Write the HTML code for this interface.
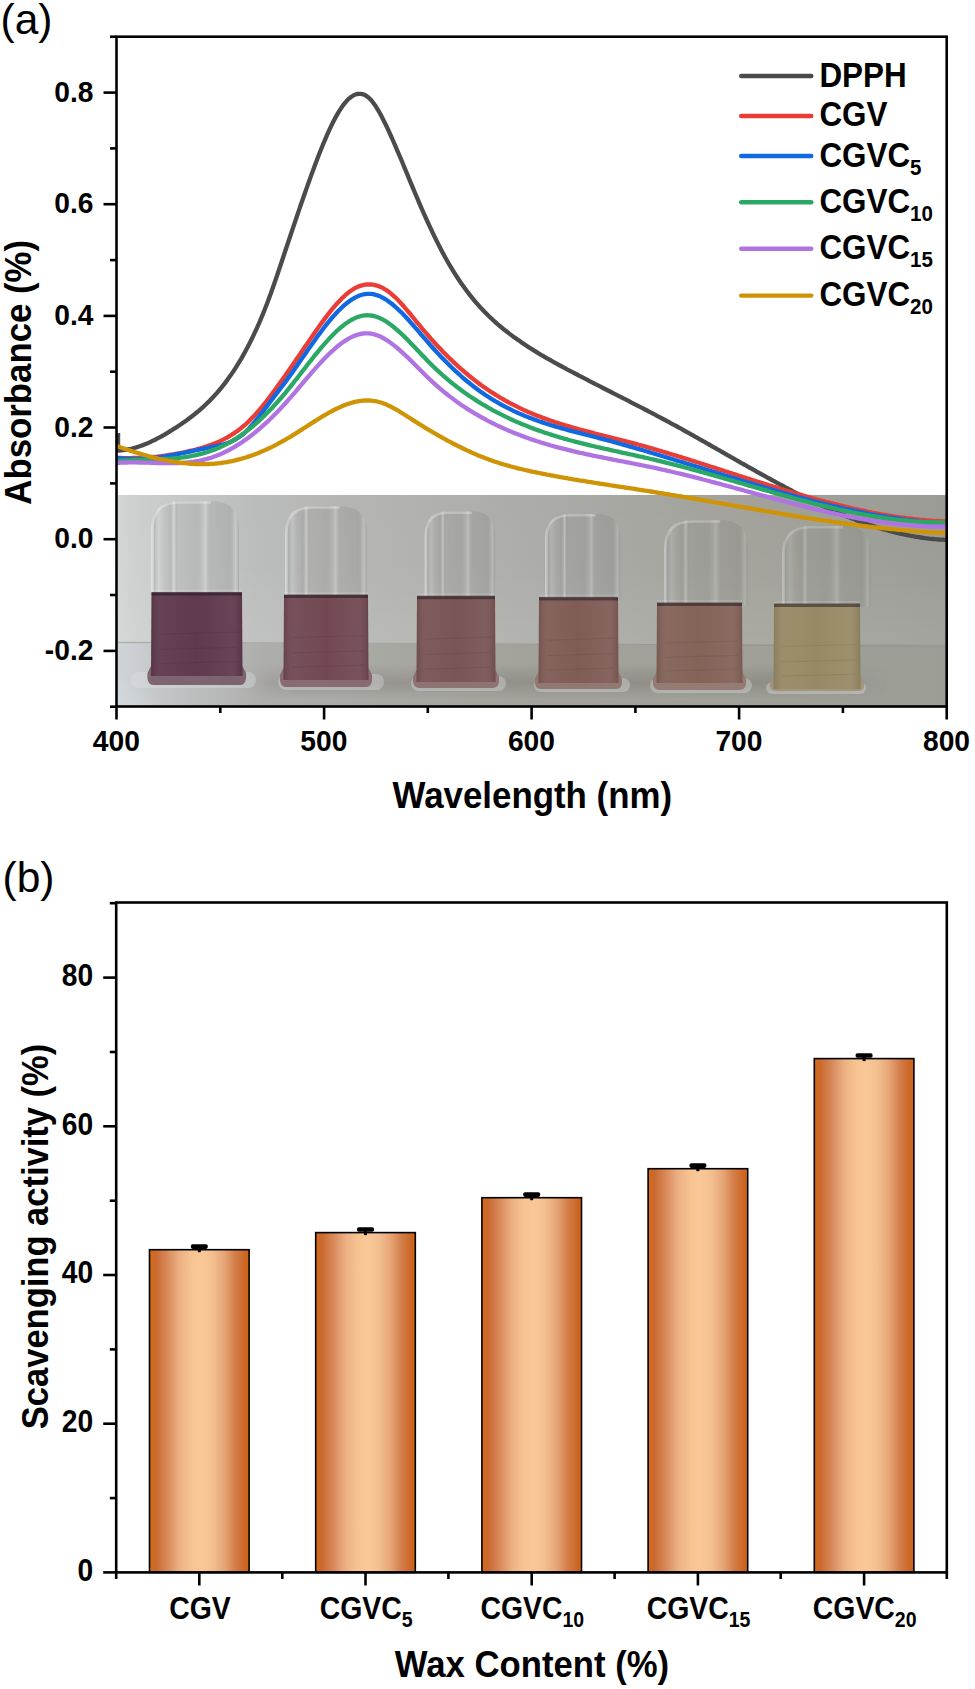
<!DOCTYPE html>
<html><head><meta charset="utf-8"><title>Figure</title>
<style>html,body{margin:0;padding:0;background:#fff;width:975px;height:1689px;overflow:hidden;font-family:"Liberation Sans",sans-serif;}svg{display:block}</style>
</head><body>
<svg width="975" height="1689" viewBox="0 0 975 1689">
<rect width="975" height="1689" fill="#ffffff"/>
<defs>
<clipPath id="phclip"><rect x="117.5" y="494.8" width="828.5" height="211.2"/></clipPath>
<linearGradient id="wall" x1="0" y1="0" x2="1" y2="0"><stop offset="0" stop-color="#d4d6d5"/><stop offset="0.02" stop-color="#ccd0cf"/><stop offset="0.17" stop-color="#babcbb"/><stop offset="0.34" stop-color="#b2b2af"/><stop offset="0.58" stop-color="#a8a8a4"/><stop offset="0.77" stop-color="#a2a29a"/><stop offset="0.95" stop-color="#9c9d97"/><stop offset="1" stop-color="#9a9b95"/></linearGradient>
<linearGradient id="table" x1="0" y1="0" x2="1" y2="0"><stop offset="0" stop-color="#d0d5da"/><stop offset="0.05" stop-color="#c4c7c8"/><stop offset="0.18" stop-color="#adadab"/><stop offset="0.48" stop-color="#a3a39b"/><stop offset="1" stop-color="#9c9d95"/></linearGradient>
<radialGradient id="tableglow" cx="0" cy="1" r="1"><stop offset="0" stop-color="#dfe5ee" stop-opacity="0.9"/><stop offset="1" stop-color="#dfe5ee" stop-opacity="0"/></radialGradient>
<linearGradient id="capg" x1="0" y1="0" x2="1" y2="0"><stop offset="0" stop-color="#ffffff" stop-opacity="0.30"/><stop offset="0.04" stop-color="#5a6570" stop-opacity="0.18"/><stop offset="0.09" stop-color="#ffffff" stop-opacity="0.10"/><stop offset="0.2" stop-color="#000000" stop-opacity="0.06"/><stop offset="0.26" stop-color="#ffffff" stop-opacity="0.28"/><stop offset="0.31" stop-color="#000000" stop-opacity="0.05"/><stop offset="0.5" stop-color="#000000" stop-opacity="0.07"/><stop offset="0.62" stop-color="#ffffff" stop-opacity="0.18"/><stop offset="0.68" stop-color="#000000" stop-opacity="0.06"/><stop offset="0.9" stop-color="#000000" stop-opacity="0.08"/><stop offset="0.96" stop-color="#ffffff" stop-opacity="0.15"/><stop offset="1" stop-color="#50565c" stop-opacity="0.2"/></linearGradient>
<linearGradient id="liqg" x1="0" y1="0" x2="1" y2="0"><stop offset="0" stop-color="#000" stop-opacity="0.10"/><stop offset="0.12" stop-color="#fff" stop-opacity="0.04"/><stop offset="0.5" stop-color="#fff" stop-opacity="0.0"/><stop offset="0.88" stop-color="#fff" stop-opacity="0.05"/><stop offset="1" stop-color="#000" stop-opacity="0.10"/></linearGradient>
</defs>
<g clip-path="url(#phclip)">
<rect x="117.5" y="494.8" width="828.5" height="149.2" fill="url(#wall)"/>
<rect x="117.5" y="644" width="828.5" height="62.0" fill="url(#table)"/>
<ellipse cx="118" cy="706" rx="70" ry="45" fill="url(#tableglow)"/>
<linearGradient id="wallv" x1="0" y1="0" x2="0" y2="1"><stop offset="0" stop-color="#fff" stop-opacity="0"/><stop offset="0.5" stop-color="#fff" stop-opacity="0.02"/><stop offset="1" stop-color="#fff" stop-opacity="0.09"/></linearGradient>
<rect x="117.5" y="494.8" width="828.5" height="149.2" fill="url(#wallv)"/>
<linearGradient id="shadowv" x1="0" y1="0" x2="0" y2="1"><stop offset="0" stop-color="#3a3028" stop-opacity="0"/><stop offset="0.55" stop-color="#3a3028" stop-opacity="0.16"/><stop offset="1" stop-color="#3a3028" stop-opacity="0.0"/></linearGradient>
<linearGradient id="shadowh" x1="0" y1="0" x2="1" y2="0"><stop offset="0" stop-color="#fff" stop-opacity="0"/><stop offset="0.08" stop-color="#fff" stop-opacity="1"/><stop offset="0.85" stop-color="#fff" stop-opacity="1"/><stop offset="1" stop-color="#fff" stop-opacity="0"/></linearGradient>
<mask id="shmask"><rect x="240" y="664" width="650" height="34" fill="url(#shadowh)"/></mask>
<rect x="240" y="664" width="650" height="34" fill="url(#shadowv)" mask="url(#shmask)"/>
<path d="M117.5,642.5 L640,644.5" stroke="#9d9e98" stroke-width="1.4" fill="none" opacity="0.7"/>
<path d="M640,644.5 L946,646.5" stroke="#8e8f88" stroke-width="1.2" fill="none" opacity="0.5"/>
<rect x="131.0" y="672.0" width="125.0" height="16.0" rx="8.0" fill="#dfe2e6" opacity="0.35"/>
<path d="M151.0,666.0 L242.5,666.0 L246.0,673.0 Q247.0,685.0 240.0,685.0 L153.5,685.0 Q146.5,685.0 147.5,673.0 Z" fill="#765866" opacity="0.9"/>
<g opacity="1.00">
<path d="M151.0,595.5 L151.0,529.0 Q151.0,501.0 179.0,501.0 L211.0,501.0 Q239.0,501.0 239.0,529.0 L239.0,595.5 Z" fill="url(#capg)"/>
<path d="M152.5,592.5 L152.5,529.0 Q152.5,502.5 179.0,502.5 L211.0,502.5" fill="none" stroke="#ffffff" stroke-opacity="0.32" stroke-width="2.6"/>
</g>
<path d="M151.5,592.5 L242.0,592.5 L242.5,676.0 L151.0,676.0 Z" fill="#603a4e"/>
<path d="M151.5,592.5 L242.0,592.5 L242.5,676.0 L151.0,676.0 Z" fill="url(#liqg)"/>
<rect x="151.5" y="592.0" width="90.5" height="3.5" fill="#1e141c" opacity="0.5"/>
<rect x="151.5" y="589.5" width="90.5" height="2" fill="#ffffff" opacity="0.12"/>
<line x1="159.5" y1="634.2" x2="238.0" y2="632.2" stroke="#000" stroke-opacity="0.07" stroke-width="1.2"/>
<line x1="159.5" y1="649.3" x2="238.0" y2="647.3" stroke="#000" stroke-opacity="0.07" stroke-width="1.2"/>
<line x1="159.5" y1="663.5" x2="238.0" y2="661.5" stroke="#000" stroke-opacity="0.07" stroke-width="1.2"/>
<rect x="278.0" y="674.0" width="106.0" height="16.0" rx="8.0" fill="#dfe2e6" opacity="0.35"/>
<path d="M283.5,668.0 L368.5,668.0 L372.0,675.0 Q373.0,687.0 366.0,687.0 L286.0,687.0 Q279.0,687.0 280.0,675.0 Z" fill="#84646a" opacity="0.9"/>
<g opacity="0.95">
<path d="M285.0,598.0 L285.0,533.1 Q285.0,506.0 312.1,506.0 L339.9,506.0 Q367.0,506.0 367.0,533.1 L367.0,598.0 Z" fill="url(#capg)"/>
<path d="M286.5,595.0 L286.5,533.1 Q286.5,507.5 312.1,507.5 L339.9,507.5" fill="none" stroke="#ffffff" stroke-opacity="0.32" stroke-width="2.6"/>
</g>
<path d="M284.0,595.0 L368.0,595.0 L368.5,680.0 L283.5,680.0 Z" fill="#724953"/>
<path d="M284.0,595.0 L368.0,595.0 L368.5,680.0 L283.5,680.0 Z" fill="url(#liqg)"/>
<rect x="284.0" y="594.5" width="84.0" height="3.5" fill="#1e141c" opacity="0.5"/>
<rect x="284.0" y="592.0" width="84.0" height="2" fill="#ffffff" opacity="0.12"/>
<line x1="292.0" y1="637.5" x2="364.0" y2="635.5" stroke="#000" stroke-opacity="0.07" stroke-width="1.2"/>
<line x1="292.0" y1="652.8" x2="364.0" y2="650.8" stroke="#000" stroke-opacity="0.07" stroke-width="1.2"/>
<line x1="292.0" y1="667.2" x2="364.0" y2="665.2" stroke="#000" stroke-opacity="0.07" stroke-width="1.2"/>
<rect x="411.0" y="676.0" width="95.0" height="15.0" rx="7.5" fill="#dfe2e6" opacity="0.35"/>
<path d="M416.5,670.0 L495.5,670.0 L499.0,677.0 Q500.0,688.0 493.0,688.0 L419.0,688.0 Q412.0,688.0 413.0,677.0 Z" fill="#8a6d6c" opacity="0.9"/>
<g opacity="0.90">
<path d="M424.6,599.2 L424.6,534.4 Q424.6,511.2 447.8,511.2 L471.8,511.2 Q495.0,511.2 495.0,534.4 L495.0,599.2 Z" fill="url(#capg)"/>
<path d="M426.1,596.2 L426.1,534.4 Q426.1,512.7 447.8,512.7 L471.8,512.7" fill="none" stroke="#ffffff" stroke-opacity="0.32" stroke-width="2.6"/>
</g>
<path d="M417.0,596.2 L495.0,596.2 L495.5,682.0 L416.5,682.0 Z" fill="#7a5555"/>
<path d="M417.0,596.2 L495.0,596.2 L495.5,682.0 L416.5,682.0 Z" fill="url(#liqg)"/>
<rect x="417.0" y="595.7" width="78.0" height="3.5" fill="#1e141c" opacity="0.5"/>
<rect x="417.0" y="593.2" width="78.0" height="2" fill="#ffffff" opacity="0.12"/>
<line x1="425.0" y1="639.1" x2="491.0" y2="637.1" stroke="#000" stroke-opacity="0.07" stroke-width="1.2"/>
<line x1="425.0" y1="654.5" x2="491.0" y2="652.5" stroke="#000" stroke-opacity="0.07" stroke-width="1.2"/>
<line x1="425.0" y1="669.1" x2="491.0" y2="667.1" stroke="#000" stroke-opacity="0.07" stroke-width="1.2"/>
<rect x="534.0" y="678.0" width="96.0" height="14.0" rx="7.0" fill="#dfe2e6" opacity="0.35"/>
<path d="M538.5,672.0 L618.5,672.0 L622.0,679.0 Q623.0,689.0 616.0,689.0 L541.0,689.0 Q534.0,689.0 535.0,679.0 Z" fill="#8f726d" opacity="0.9"/>
<g opacity="0.85">
<path d="M545.0,600.4 L545.0,538.5 Q545.0,513.7 569.8,513.7 L595.5,513.7 Q620.3,513.7 620.3,538.5 L620.3,600.4 Z" fill="url(#capg)"/>
<path d="M546.5,597.4 L546.5,538.5 Q546.5,515.2 569.8,515.2 L595.5,515.2" fill="none" stroke="#ffffff" stroke-opacity="0.32" stroke-width="2.6"/>
</g>
<path d="M539.0,597.4 L618.0,597.4 L618.5,683.0 L538.5,683.0 Z" fill="#815c57"/>
<path d="M539.0,597.4 L618.0,597.4 L618.5,683.0 L538.5,683.0 Z" fill="url(#liqg)"/>
<rect x="539.0" y="596.9" width="79.0" height="3.5" fill="#1e141c" opacity="0.5"/>
<rect x="539.0" y="594.4" width="79.0" height="2" fill="#ffffff" opacity="0.12"/>
<line x1="547.0" y1="640.2" x2="614.0" y2="638.2" stroke="#000" stroke-opacity="0.07" stroke-width="1.2"/>
<line x1="547.0" y1="655.6" x2="614.0" y2="653.6" stroke="#000" stroke-opacity="0.07" stroke-width="1.2"/>
<line x1="547.0" y1="670.2" x2="614.0" y2="668.2" stroke="#000" stroke-opacity="0.07" stroke-width="1.2"/>
<rect x="650.0" y="678.0" width="102.0" height="15.0" rx="7.5" fill="#dfe2e6" opacity="0.35"/>
<path d="M656.5,672.0 L742.5,672.0 L746.0,679.0 Q747.0,690.0 740.0,690.0 L659.0,690.0 Q652.0,690.0 653.0,679.0 Z" fill="#91776e" opacity="0.9"/>
<g opacity="0.75">
<path d="M664.0,606.0 L664.0,547.7 Q664.0,520.0 691.7,520.0 L720.3,520.0 Q748.0,520.0 748.0,547.7 L748.0,606.0 Z" fill="url(#capg)"/>
<path d="M665.5,603.0 L665.5,547.7 Q665.5,521.5 691.7,521.5 L720.3,521.5" fill="none" stroke="#ffffff" stroke-opacity="0.32" stroke-width="2.6"/>
</g>
<path d="M657.0,603.0 L742.0,603.0 L742.5,683.0 L656.5,683.0 Z" fill="#846358"/>
<path d="M657.0,603.0 L742.0,603.0 L742.5,683.0 L656.5,683.0 Z" fill="url(#liqg)"/>
<rect x="657.0" y="602.5" width="85.0" height="3.5" fill="#1e141c" opacity="0.5"/>
<rect x="657.0" y="600.0" width="85.0" height="2" fill="#ffffff" opacity="0.12"/>
<line x1="665.0" y1="643.0" x2="738.0" y2="641.0" stroke="#000" stroke-opacity="0.07" stroke-width="1.2"/>
<line x1="665.0" y1="657.4" x2="738.0" y2="655.4" stroke="#000" stroke-opacity="0.07" stroke-width="1.2"/>
<line x1="665.0" y1="671.0" x2="738.0" y2="669.0" stroke="#000" stroke-opacity="0.07" stroke-width="1.2"/>
<rect x="766.0" y="682.0" width="100.0" height="12.0" rx="6.0" fill="#dfe2e6" opacity="0.35"/>
<path d="M773.5,676.0 L860.5,676.0 L864.0,683.0 Q865.0,691.0 858.0,691.0 L776.0,691.0 Q769.0,691.0 770.0,683.0 Z" fill="#a09478" opacity="0.9"/>
<g opacity="0.65">
<path d="M782.0,607.0 L782.0,553.7 Q782.0,525.7 810.0,525.7 L843.0,525.7 Q871.0,525.7 871.0,553.7 L871.0,607.0 Z" fill="url(#capg)"/>
<path d="M783.5,604.0 L783.5,553.7 Q783.5,527.2 810.0,527.2 L843.0,527.2" fill="none" stroke="#ffffff" stroke-opacity="0.32" stroke-width="2.6"/>
</g>
<path d="M774.0,604.0 L860.0,604.0 L860.5,689.0 L773.5,689.0 Z" fill="#988a66"/>
<path d="M774.0,604.0 L860.0,604.0 L860.5,689.0 L773.5,689.0 Z" fill="url(#liqg)"/>
<rect x="774.0" y="603.5" width="86.0" height="3.5" fill="#1e141c" opacity="0.5"/>
<rect x="774.0" y="601.0" width="86.0" height="2" fill="#ffffff" opacity="0.12"/>
<line x1="782.0" y1="646.5" x2="856.0" y2="644.5" stroke="#000" stroke-opacity="0.07" stroke-width="1.2"/>
<line x1="782.0" y1="661.8" x2="856.0" y2="659.8" stroke="#000" stroke-opacity="0.07" stroke-width="1.2"/>
<line x1="782.0" y1="676.2" x2="856.0" y2="674.2" stroke="#000" stroke-opacity="0.07" stroke-width="1.2"/>
</g>
<path d="M117.0,450.6 L119.0,450.5 L121.0,450.4 L123.0,450.2 L125.0,449.9 L127.0,449.6 L129.0,449.2 L131.0,448.8 L133.0,448.3 L135.0,447.7 L137.0,447.1 L139.0,446.5 L141.0,445.8 L143.0,445.1 L145.0,444.3 L147.0,443.5 L149.0,442.6 L151.0,441.7 L153.0,440.7 L155.0,439.8 L157.0,438.7 L159.0,437.7 L161.0,436.6 L163.0,435.5 L165.0,434.3 L167.0,433.2 L169.0,431.9 L171.0,430.7 L173.0,429.4 L175.0,428.2 L177.0,426.9 L179.0,425.5 L181.0,424.2 L183.0,422.8 L185.0,421.4 L187.0,420.0 L189.0,418.5 L191.0,417.0 L193.0,415.5 L195.0,413.9 L197.0,412.3 L199.0,410.6 L201.0,408.8 L203.0,407.1 L205.0,405.2 L207.0,403.3 L209.0,401.4 L211.0,399.3 L213.0,397.2 L215.0,395.1 L217.0,392.8 L219.0,390.5 L221.0,388.1 L223.0,385.6 L225.0,383.1 L227.0,380.4 L229.0,377.6 L231.0,374.8 L233.0,371.9 L235.0,368.8 L237.0,365.7 L239.0,362.4 L241.0,359.1 L243.0,355.6 L245.0,352.0 L247.0,348.3 L249.0,344.5 L251.0,340.5 L253.0,336.4 L255.0,332.2 L257.0,327.8 L259.0,323.3 L261.0,318.6 L263.0,313.8 L265.0,308.8 L267.0,303.7 L269.0,298.3 L271.0,292.9 L273.0,287.2 L275.0,281.5 L277.0,275.7 L279.0,269.8 L281.0,263.8 L283.0,257.8 L285.0,251.8 L287.0,245.8 L289.0,239.8 L291.0,233.8 L293.0,227.9 L295.0,221.9 L297.0,216.0 L299.0,210.1 L301.0,204.3 L303.0,198.5 L305.0,192.8 L307.0,187.1 L309.0,181.5 L311.0,175.9 L313.0,170.4 L315.0,165.1 L317.0,159.8 L319.0,154.6 L321.0,149.5 L323.0,144.5 L325.0,139.8 L327.0,135.1 L329.0,130.7 L331.0,126.4 L333.0,122.3 L335.0,118.4 L337.0,114.8 L339.0,111.4 L341.0,108.3 L343.0,105.4 L345.0,102.9 L347.0,100.6 L349.0,98.6 L351.0,97.0 L353.0,95.7 L355.0,94.7 L357.0,94.0 L359.0,93.8 L361.0,93.8 L363.0,94.3 L365.0,95.1 L367.0,96.4 L369.0,98.0 L371.0,100.0 L373.0,102.5 L375.0,105.2 L377.0,108.3 L379.0,111.7 L381.0,115.3 L383.0,119.2 L385.0,123.2 L387.0,127.3 L389.0,131.6 L391.0,136.0 L393.0,140.5 L395.0,145.1 L397.0,149.8 L399.0,154.5 L401.0,159.2 L403.0,164.0 L405.0,168.9 L407.0,173.7 L409.0,178.6 L411.0,183.4 L413.0,188.2 L415.0,193.0 L417.0,197.7 L419.0,202.4 L421.0,207.1 L423.0,211.6 L425.0,216.1 L427.0,220.5 L429.0,224.9 L431.0,229.2 L433.0,233.4 L435.0,237.5 L437.0,241.6 L439.0,245.5 L441.0,249.4 L443.0,253.2 L445.0,256.9 L447.0,260.5 L449.0,264.0 L451.0,267.4 L453.0,270.7 L455.0,273.9 L457.0,277.0 L459.0,280.0 L461.0,283.0 L463.0,285.8 L465.0,288.6 L467.0,291.3 L469.0,293.9 L471.0,296.5 L473.0,298.9 L475.0,301.3 L477.0,303.6 L479.0,305.9 L481.0,308.1 L483.0,310.2 L485.0,312.3 L487.0,314.3 L489.0,316.3 L491.0,318.2 L493.0,320.0 L495.0,321.8 L497.0,323.6 L499.0,325.3 L501.0,327.0 L503.0,328.7 L505.0,330.3 L507.0,331.8 L509.0,333.4 L511.0,334.9 L513.0,336.4 L515.0,337.8 L517.0,339.2 L519.0,340.6 L521.0,342.0 L523.0,343.4 L525.0,344.7 L527.0,346.1 L529.0,347.4 L531.0,348.6 L533.0,349.9 L535.0,351.1 L537.0,352.4 L539.0,353.6 L541.0,354.8 L543.0,355.9 L545.0,357.1 L547.0,358.3 L549.0,359.4 L551.0,360.5 L553.0,361.7 L555.0,362.8 L557.0,363.9 L559.0,365.0 L561.0,366.0 L563.0,367.1 L565.0,368.2 L567.0,369.3 L569.0,370.3 L571.0,371.4 L573.0,372.4 L575.0,373.5 L577.0,374.5 L579.0,375.6 L581.0,376.6 L583.0,377.7 L585.0,378.7 L587.0,379.7 L589.0,380.8 L591.0,381.8 L593.0,382.8 L595.0,383.9 L597.0,384.9 L599.0,385.9 L601.0,386.9 L603.0,388.0 L605.0,389.0 L607.0,390.0 L609.0,391.0 L611.0,392.0 L613.0,393.1 L615.0,394.1 L617.0,395.1 L619.0,396.1 L621.0,397.1 L623.0,398.2 L625.0,399.2 L627.0,400.2 L629.0,401.2 L631.0,402.3 L633.0,403.3 L635.0,404.3 L637.0,405.3 L639.0,406.4 L641.0,407.4 L643.0,408.4 L645.0,409.5 L647.0,410.5 L649.0,411.6 L651.0,412.6 L653.0,413.7 L655.0,414.7 L657.0,415.8 L659.0,416.8 L661.0,417.9 L663.0,419.0 L665.0,420.0 L667.0,421.1 L669.0,422.2 L671.0,423.3 L673.0,424.4 L675.0,425.4 L677.0,426.5 L679.0,427.6 L681.0,428.7 L683.0,429.9 L685.0,431.0 L687.0,432.1 L689.0,433.2 L691.0,434.3 L693.0,435.4 L695.0,436.6 L697.0,437.7 L699.0,438.8 L701.0,440.0 L703.0,441.1 L705.0,442.2 L707.0,443.4 L709.0,444.5 L711.0,445.6 L713.0,446.8 L715.0,447.9 L717.0,449.1 L719.0,450.2 L721.0,451.4 L723.0,452.5 L725.0,453.6 L727.0,454.8 L729.0,455.9 L731.0,457.1 L733.0,458.2 L735.0,459.3 L737.0,460.5 L739.0,461.6 L741.0,462.8 L743.0,463.9 L745.0,465.0 L747.0,466.2 L749.0,467.3 L751.0,468.4 L753.0,469.5 L755.0,470.7 L757.0,471.8 L759.0,472.9 L761.0,474.0 L763.0,475.1 L765.0,476.2 L767.0,477.3 L769.0,478.4 L771.0,479.5 L773.0,480.6 L775.0,481.7 L777.0,482.8 L779.0,483.9 L781.0,484.9 L783.0,486.0 L785.0,487.1 L787.0,488.1 L789.0,489.2 L791.0,490.2 L793.0,491.3 L795.0,492.3 L797.0,493.3 L799.0,494.3 L801.0,495.4 L803.0,496.4 L805.0,497.4 L807.0,498.4 L809.0,499.3 L811.0,500.3 L813.0,501.3 L815.0,502.3 L817.0,503.2 L819.0,504.2 L821.0,505.1 L823.0,506.0 L825.0,506.9 L827.0,507.9 L829.0,508.8 L831.0,509.7 L833.0,510.5 L835.0,511.4 L837.0,512.3 L839.0,513.1 L841.0,514.0 L843.0,514.8 L845.0,515.6 L847.0,516.5 L849.0,517.3 L851.0,518.1 L853.0,518.8 L855.0,519.6 L857.0,520.4 L859.0,521.1 L861.0,521.8 L863.0,522.6 L865.0,523.3 L867.0,524.0 L869.0,524.7 L871.0,525.3 L873.0,526.0 L875.0,526.6 L877.0,527.3 L879.0,527.9 L881.0,528.5 L883.0,529.1 L885.0,529.7 L887.0,530.2 L889.0,530.8 L891.0,531.3 L893.0,531.9 L895.0,532.4 L897.0,532.9 L899.0,533.3 L901.0,533.8 L903.0,534.2 L905.0,534.7 L907.0,535.1 L909.0,535.5 L911.0,535.9 L913.0,536.2 L915.0,536.6 L917.0,536.9 L919.0,537.2 L921.0,537.5 L923.0,537.8 L925.0,538.1 L927.0,538.3 L929.0,538.6 L931.0,538.8 L933.0,539.0 L935.0,539.2 L937.0,539.3 L939.0,539.5 L941.0,539.6 L943.0,539.7 L945.0,539.8 L946.0,539.8" fill="none" stroke="#4b4b4b" stroke-width="4.3" stroke-linejoin="round" stroke-linecap="butt"/>
<path d="M118.6,451 L118.6,433" stroke="#4b4b4b" stroke-width="3.2" fill="none"/>
<path d="M117.0,457.9 L119.0,458.0 L121.0,458.0 L123.0,458.1 L125.0,458.1 L127.0,458.1 L129.0,458.1 L131.0,458.1 L133.0,458.0 L135.0,458.0 L137.0,457.9 L139.0,457.9 L141.0,457.8 L143.0,457.7 L145.0,457.6 L147.0,457.4 L149.0,457.3 L151.0,457.1 L153.0,456.9 L155.0,456.8 L157.0,456.6 L159.0,456.3 L161.0,456.1 L163.0,455.8 L165.0,455.6 L167.0,455.3 L169.0,455.0 L171.0,454.7 L173.0,454.4 L175.0,454.0 L177.0,453.7 L179.0,453.3 L181.0,452.9 L183.0,452.5 L185.0,452.1 L187.0,451.7 L189.0,451.2 L191.0,450.7 L193.0,450.3 L195.0,449.8 L197.0,449.2 L199.0,448.7 L201.0,448.1 L203.0,447.6 L205.0,446.9 L207.0,446.3 L209.0,445.6 L211.0,444.9 L213.0,444.1 L215.0,443.4 L217.0,442.5 L219.0,441.6 L221.0,440.7 L223.0,439.7 L225.0,438.7 L227.0,437.6 L229.0,436.4 L231.0,435.2 L233.0,433.9 L235.0,432.6 L237.0,431.2 L239.0,429.7 L241.0,428.1 L243.0,426.5 L245.0,424.8 L247.0,423.0 L249.0,421.1 L251.0,419.1 L253.0,417.0 L255.0,414.9 L257.0,412.6 L259.0,410.3 L261.0,408.0 L263.0,405.5 L265.0,403.0 L267.0,400.5 L269.0,397.9 L271.0,395.2 L273.0,392.6 L275.0,389.9 L277.0,387.1 L279.0,384.4 L281.0,381.6 L283.0,378.7 L285.0,375.9 L287.0,373.0 L289.0,370.2 L291.0,367.3 L293.0,364.4 L295.0,361.5 L297.0,358.5 L299.0,355.6 L301.0,352.7 L303.0,349.7 L305.0,346.8 L307.0,343.9 L309.0,341.0 L311.0,338.1 L313.0,335.2 L315.0,332.3 L317.0,329.5 L319.0,326.6 L321.0,323.8 L323.0,321.1 L325.0,318.4 L327.0,315.7 L329.0,313.1 L331.0,310.6 L333.0,308.2 L335.0,305.8 L337.0,303.5 L339.0,301.4 L341.0,299.3 L343.0,297.3 L345.0,295.5 L347.0,293.7 L349.0,292.1 L351.0,290.7 L353.0,289.3 L355.0,288.2 L357.0,287.2 L359.0,286.3 L361.0,285.6 L363.0,285.1 L365.0,284.7 L367.0,284.5 L369.0,284.4 L371.0,284.5 L373.0,284.7 L375.0,285.1 L377.0,285.6 L379.0,286.3 L381.0,287.2 L383.0,288.2 L385.0,289.3 L387.0,290.6 L389.0,292.0 L391.0,293.6 L393.0,295.3 L395.0,297.1 L397.0,299.1 L399.0,301.1 L401.0,303.3 L403.0,305.5 L405.0,307.8 L407.0,310.1 L409.0,312.5 L411.0,314.9 L413.0,317.4 L415.0,319.8 L417.0,322.3 L419.0,324.7 L421.0,327.2 L423.0,329.6 L425.0,331.9 L427.0,334.2 L429.0,336.5 L431.0,338.8 L433.0,341.0 L435.0,343.2 L437.0,345.4 L439.0,347.5 L441.0,349.6 L443.0,351.7 L445.0,353.7 L447.0,355.7 L449.0,357.7 L451.0,359.6 L453.0,361.6 L455.0,363.4 L457.0,365.3 L459.0,367.1 L461.0,368.9 L463.0,370.6 L465.0,372.4 L467.0,374.0 L469.0,375.7 L471.0,377.3 L473.0,378.9 L475.0,380.5 L477.0,382.0 L479.0,383.5 L481.0,385.0 L483.0,386.4 L485.0,387.8 L487.0,389.2 L489.0,390.5 L491.0,391.9 L493.0,393.2 L495.0,394.4 L497.0,395.7 L499.0,396.9 L501.0,398.1 L503.0,399.2 L505.0,400.4 L507.0,401.5 L509.0,402.6 L511.0,403.6 L513.0,404.7 L515.0,405.7 L517.0,406.7 L519.0,407.7 L521.0,408.6 L523.0,409.6 L525.0,410.5 L527.0,411.4 L529.0,412.2 L531.0,413.1 L533.0,413.9 L535.0,414.7 L537.0,415.6 L539.0,416.3 L541.0,417.1 L543.0,417.9 L545.0,418.6 L547.0,419.3 L549.0,420.0 L551.0,420.7 L553.0,421.4 L555.0,422.1 L557.0,422.7 L559.0,423.4 L561.0,424.0 L563.0,424.6 L565.0,425.2 L567.0,425.8 L569.0,426.4 L571.0,427.0 L573.0,427.6 L575.0,428.2 L577.0,428.7 L579.0,429.3 L581.0,429.8 L583.0,430.3 L585.0,430.9 L587.0,431.4 L589.0,431.9 L591.0,432.4 L593.0,432.9 L595.0,433.5 L597.0,434.0 L599.0,434.5 L601.0,435.0 L603.0,435.5 L605.0,436.0 L607.0,436.5 L609.0,437.0 L611.0,437.5 L613.0,438.0 L615.0,438.5 L617.0,439.0 L619.0,439.5 L621.0,440.0 L623.0,440.5 L625.0,441.0 L627.0,441.5 L629.0,442.1 L631.0,442.6 L633.0,443.1 L635.0,443.7 L637.0,444.2 L639.0,444.8 L641.0,445.3 L643.0,445.9 L645.0,446.4 L647.0,447.0 L649.0,447.6 L651.0,448.2 L653.0,448.7 L655.0,449.3 L657.0,449.9 L659.0,450.5 L661.0,451.1 L663.0,451.7 L665.0,452.3 L667.0,452.9 L669.0,453.5 L671.0,454.1 L673.0,454.7 L675.0,455.3 L677.0,455.9 L679.0,456.5 L681.0,457.1 L683.0,457.8 L685.0,458.4 L687.0,459.0 L689.0,459.6 L691.0,460.3 L693.0,460.9 L695.0,461.5 L697.0,462.2 L699.0,462.8 L701.0,463.5 L703.0,464.1 L705.0,464.7 L707.0,465.4 L709.0,466.0 L711.0,466.7 L713.0,467.3 L715.0,467.9 L717.0,468.6 L719.0,469.2 L721.0,469.9 L723.0,470.5 L725.0,471.2 L727.0,471.8 L729.0,472.5 L731.0,473.1 L733.0,473.8 L735.0,474.4 L737.0,475.1 L739.0,475.7 L741.0,476.3 L743.0,477.0 L745.0,477.6 L747.0,478.3 L749.0,478.9 L751.0,479.6 L753.0,480.2 L755.0,480.8 L757.0,481.5 L759.0,482.1 L761.0,482.7 L763.0,483.4 L765.0,484.0 L767.0,484.6 L769.0,485.3 L771.0,485.9 L773.0,486.5 L775.0,487.1 L777.0,487.7 L779.0,488.4 L781.0,489.0 L783.0,489.6 L785.0,490.2 L787.0,490.8 L789.0,491.4 L791.0,492.0 L793.0,492.6 L795.0,493.2 L797.0,493.8 L799.0,494.4 L801.0,494.9 L803.0,495.5 L805.0,496.1 L807.0,496.7 L809.0,497.2 L811.0,497.8 L813.0,498.4 L815.0,498.9 L817.0,499.5 L819.0,500.0 L821.0,500.6 L823.0,501.1 L825.0,501.6 L827.0,502.2 L829.0,502.7 L831.0,503.2 L833.0,503.7 L835.0,504.2 L837.0,504.7 L839.0,505.2 L841.0,505.7 L843.0,506.2 L845.0,506.7 L847.0,507.2 L849.0,507.6 L851.0,508.1 L853.0,508.5 L855.0,509.0 L857.0,509.4 L859.0,509.9 L861.0,510.3 L863.0,510.7 L865.0,511.2 L867.0,511.6 L869.0,512.0 L871.0,512.4 L873.0,512.8 L875.0,513.1 L877.0,513.5 L879.0,513.9 L881.0,514.3 L883.0,514.6 L885.0,515.0 L887.0,515.3 L889.0,515.6 L891.0,516.0 L893.0,516.3 L895.0,516.6 L897.0,516.9 L899.0,517.2 L901.0,517.5 L903.0,517.7 L905.0,518.0 L907.0,518.3 L909.0,518.5 L911.0,518.7 L913.0,519.0 L915.0,519.2 L917.0,519.4 L919.0,519.6 L921.0,519.8 L923.0,520.0 L925.0,520.2 L927.0,520.3 L929.0,520.5 L931.0,520.6 L933.0,520.8 L935.0,520.9 L937.0,521.0 L939.0,521.1 L941.0,521.2 L943.0,521.3 L945.0,521.4 L946.0,521.4" fill="none" stroke="#e93d36" stroke-width="4.3" stroke-linejoin="round" stroke-linecap="butt"/>
<path d="M117.0,457.8 L119.0,458.1 L121.0,458.3 L123.0,458.5 L125.0,458.6 L127.0,458.8 L129.0,458.9 L131.0,459.0 L133.0,459.0 L135.0,459.0 L137.0,459.0 L139.0,458.9 L141.0,458.9 L143.0,458.8 L145.0,458.7 L147.0,458.5 L149.0,458.4 L151.0,458.2 L153.0,458.0 L155.0,457.7 L157.0,457.5 L159.0,457.2 L161.0,457.0 L163.0,456.7 L165.0,456.3 L167.0,456.0 L169.0,455.7 L171.0,455.3 L173.0,455.0 L175.0,454.6 L177.0,454.2 L179.0,453.8 L181.0,453.4 L183.0,453.0 L185.0,452.6 L187.0,452.2 L189.0,451.8 L191.0,451.4 L193.0,450.9 L195.0,450.5 L197.0,450.1 L199.0,449.7 L201.0,449.2 L203.0,448.8 L205.0,448.4 L207.0,448.0 L209.0,447.6 L211.0,447.2 L213.0,446.8 L215.0,446.4 L217.0,445.9 L219.0,445.5 L221.0,445.0 L223.0,444.5 L225.0,443.9 L227.0,443.2 L229.0,442.5 L231.0,441.6 L233.0,440.7 L235.0,439.7 L237.0,438.5 L239.0,437.2 L241.0,435.8 L243.0,434.2 L245.0,432.4 L247.0,430.5 L249.0,428.5 L251.0,426.3 L253.0,424.0 L255.0,421.6 L257.0,419.2 L259.0,416.6 L261.0,414.0 L263.0,411.4 L265.0,408.8 L267.0,406.1 L269.0,403.4 L271.0,400.8 L273.0,398.1 L275.0,395.5 L277.0,392.9 L279.0,390.4 L281.0,387.8 L283.0,385.1 L285.0,382.5 L287.0,379.8 L289.0,377.0 L291.0,374.2 L293.0,371.4 L295.0,368.6 L297.0,365.7 L299.0,362.8 L301.0,359.9 L303.0,357.1 L305.0,354.2 L307.0,351.3 L309.0,348.4 L311.0,345.5 L313.0,342.7 L315.0,339.9 L317.0,337.1 L319.0,334.4 L321.0,331.7 L323.0,329.0 L325.0,326.4 L327.0,323.9 L329.0,321.4 L331.0,319.0 L333.0,316.7 L335.0,314.5 L337.0,312.3 L339.0,310.3 L341.0,308.3 L343.0,306.4 L345.0,304.6 L347.0,303.0 L349.0,301.5 L351.0,300.1 L353.0,298.8 L355.0,297.6 L357.0,296.6 L359.0,295.7 L361.0,295.0 L363.0,294.5 L365.0,294.1 L367.0,293.8 L369.0,293.8 L371.0,293.9 L373.0,294.2 L375.0,294.6 L377.0,295.2 L379.0,295.9 L381.0,296.8 L383.0,297.9 L385.0,299.0 L387.0,300.3 L389.0,301.7 L391.0,303.2 L393.0,304.8 L395.0,306.5 L397.0,308.3 L399.0,310.2 L401.0,312.1 L403.0,314.1 L405.0,316.2 L407.0,318.3 L409.0,320.5 L411.0,322.8 L413.0,325.0 L415.0,327.3 L417.0,329.6 L419.0,331.9 L421.0,334.3 L423.0,336.6 L425.0,338.9 L427.0,341.2 L429.0,343.5 L431.0,345.8 L433.0,348.0 L435.0,350.2 L437.0,352.4 L439.0,354.6 L441.0,356.7 L443.0,358.7 L445.0,360.8 L447.0,362.8 L449.0,364.8 L451.0,366.8 L453.0,368.7 L455.0,370.6 L457.0,372.4 L459.0,374.2 L461.0,376.0 L463.0,377.8 L465.0,379.5 L467.0,381.2 L469.0,382.8 L471.0,384.4 L473.0,386.0 L475.0,387.5 L477.0,389.0 L479.0,390.5 L481.0,391.9 L483.0,393.3 L485.0,394.7 L487.0,396.0 L489.0,397.3 L491.0,398.6 L493.0,399.8 L495.0,401.1 L497.0,402.2 L499.0,403.4 L501.0,404.5 L503.0,405.6 L505.0,406.7 L507.0,407.7 L509.0,408.7 L511.0,409.7 L513.0,410.7 L515.0,411.6 L517.0,412.5 L519.0,413.4 L521.0,414.3 L523.0,415.1 L525.0,416.0 L527.0,416.8 L529.0,417.6 L531.0,418.3 L533.0,419.1 L535.0,419.8 L537.0,420.5 L539.0,421.3 L541.0,421.9 L543.0,422.6 L545.0,423.3 L547.0,423.9 L549.0,424.5 L551.0,425.2 L553.0,425.8 L555.0,426.4 L557.0,427.0 L559.0,427.5 L561.0,428.1 L563.0,428.7 L565.0,429.2 L567.0,429.8 L569.0,430.3 L571.0,430.8 L573.0,431.4 L575.0,431.9 L577.0,432.4 L579.0,432.9 L581.0,433.4 L583.0,434.0 L585.0,434.5 L587.0,435.0 L589.0,435.5 L591.0,436.0 L593.0,436.5 L595.0,437.0 L597.0,437.5 L599.0,438.1 L601.0,438.6 L603.0,439.1 L605.0,439.6 L607.0,440.2 L609.0,440.7 L611.0,441.2 L613.0,441.8 L615.0,442.3 L617.0,442.9 L619.0,443.4 L621.0,444.0 L623.0,444.6 L625.0,445.1 L627.0,445.7 L629.0,446.3 L631.0,446.8 L633.0,447.4 L635.0,448.0 L637.0,448.6 L639.0,449.1 L641.0,449.7 L643.0,450.3 L645.0,450.9 L647.0,451.5 L649.0,452.1 L651.0,452.7 L653.0,453.3 L655.0,453.9 L657.0,454.5 L659.0,455.1 L661.0,455.7 L663.0,456.3 L665.0,456.9 L667.0,457.5 L669.0,458.1 L671.0,458.7 L673.0,459.3 L675.0,460.0 L677.0,460.6 L679.0,461.2 L681.0,461.8 L683.0,462.4 L685.0,463.0 L687.0,463.7 L689.0,464.3 L691.0,464.9 L693.0,465.5 L695.0,466.1 L697.0,466.8 L699.0,467.4 L701.0,468.0 L703.0,468.6 L705.0,469.2 L707.0,469.9 L709.0,470.5 L711.0,471.1 L713.0,471.7 L715.0,472.4 L717.0,473.0 L719.0,473.6 L721.0,474.2 L723.0,474.8 L725.0,475.5 L727.0,476.1 L729.0,476.7 L731.0,477.3 L733.0,477.9 L735.0,478.5 L737.0,479.1 L739.0,479.8 L741.0,480.4 L743.0,481.0 L745.0,481.6 L747.0,482.2 L749.0,482.8 L751.0,483.4 L753.0,484.0 L755.0,484.6 L757.0,485.2 L759.0,485.8 L761.0,486.4 L763.0,487.0 L765.0,487.6 L767.0,488.2 L769.0,488.8 L771.0,489.4 L773.0,489.9 L775.0,490.5 L777.0,491.1 L779.0,491.7 L781.0,492.2 L783.0,492.8 L785.0,493.4 L787.0,493.9 L789.0,494.5 L791.0,495.1 L793.0,495.6 L795.0,496.2 L797.0,496.7 L799.0,497.3 L801.0,497.8 L803.0,498.3 L805.0,498.9 L807.0,499.4 L809.0,499.9 L811.0,500.5 L813.0,501.0 L815.0,501.5 L817.0,502.0 L819.0,502.5 L821.0,503.0 L823.0,503.5 L825.0,504.0 L827.0,504.5 L829.0,505.0 L831.0,505.5 L833.0,506.0 L835.0,506.5 L837.0,506.9 L839.0,507.4 L841.0,507.8 L843.0,508.3 L845.0,508.8 L847.0,509.2 L849.0,509.6 L851.0,510.1 L853.0,510.5 L855.0,510.9 L857.0,511.4 L859.0,511.8 L861.0,512.2 L863.0,512.6 L865.0,513.0 L867.0,513.4 L869.0,513.8 L871.0,514.1 L873.0,514.5 L875.0,514.9 L877.0,515.3 L879.0,515.6 L881.0,516.0 L883.0,516.3 L885.0,516.6 L887.0,517.0 L889.0,517.3 L891.0,517.6 L893.0,517.9 L895.0,518.2 L897.0,518.5 L899.0,518.8 L901.0,519.1 L903.0,519.4 L905.0,519.7 L907.0,519.9 L909.0,520.2 L911.0,520.4 L913.0,520.7 L915.0,520.9 L917.0,521.1 L919.0,521.4 L921.0,521.6 L923.0,521.8 L925.0,522.0 L927.0,522.2 L929.0,522.3 L931.0,522.5 L933.0,522.7 L935.0,522.8 L937.0,523.0 L939.0,523.1 L941.0,523.3 L943.0,523.4 L945.0,523.5 L946.0,523.6" fill="none" stroke="#1169e2" stroke-width="4.3" stroke-linejoin="round" stroke-linecap="butt"/>
<path d="M117.0,461.0 L119.0,460.9 L121.0,460.7 L123.0,460.6 L125.0,460.5 L127.0,460.4 L129.0,460.3 L131.0,460.2 L133.0,460.1 L135.0,460.0 L137.0,460.0 L139.0,459.9 L141.0,459.9 L143.0,459.8 L145.0,459.8 L147.0,459.7 L149.0,459.6 L151.0,459.6 L153.0,459.5 L155.0,459.5 L157.0,459.4 L159.0,459.3 L161.0,459.2 L163.0,459.1 L165.0,459.0 L167.0,458.9 L169.0,458.8 L171.0,458.6 L173.0,458.5 L175.0,458.3 L177.0,458.1 L179.0,457.9 L181.0,457.6 L183.0,457.4 L185.0,457.1 L187.0,456.8 L189.0,456.5 L191.0,456.1 L193.0,455.7 L195.0,455.3 L197.0,454.9 L199.0,454.4 L201.0,453.9 L203.0,453.4 L205.0,452.8 L207.0,452.2 L209.0,451.5 L211.0,450.8 L213.0,450.1 L215.0,449.4 L217.0,448.6 L219.0,447.7 L221.0,446.8 L223.0,445.9 L225.0,444.9 L227.0,443.8 L229.0,442.8 L231.0,441.6 L233.0,440.4 L235.0,439.2 L237.0,437.9 L239.0,436.6 L241.0,435.2 L243.0,433.8 L245.0,432.4 L247.0,430.8 L249.0,429.3 L251.0,427.7 L253.0,426.0 L255.0,424.3 L257.0,422.6 L259.0,420.8 L261.0,418.9 L263.0,417.0 L265.0,415.1 L267.0,413.1 L269.0,411.1 L271.0,409.0 L273.0,406.9 L275.0,404.7 L277.0,402.5 L279.0,400.3 L281.0,398.0 L283.0,395.7 L285.0,393.3 L287.0,390.9 L289.0,388.4 L291.0,385.9 L293.0,383.4 L295.0,380.8 L297.0,378.3 L299.0,375.7 L301.0,373.1 L303.0,370.5 L305.0,368.0 L307.0,365.4 L309.0,362.8 L311.0,360.3 L313.0,357.7 L315.0,355.2 L317.0,352.8 L319.0,350.3 L321.0,347.9 L323.0,345.6 L325.0,343.3 L327.0,341.1 L329.0,338.9 L331.0,336.7 L333.0,334.7 L335.0,332.7 L337.0,330.8 L339.0,329.0 L341.0,327.3 L343.0,325.7 L345.0,324.1 L347.0,322.7 L349.0,321.4 L351.0,320.2 L353.0,319.1 L355.0,318.1 L357.0,317.3 L359.0,316.6 L361.0,316.0 L363.0,315.6 L365.0,315.3 L367.0,315.2 L369.0,315.3 L371.0,315.5 L373.0,315.8 L375.0,316.3 L377.0,317.0 L379.0,317.7 L381.0,318.6 L383.0,319.7 L385.0,320.8 L387.0,322.1 L389.0,323.5 L391.0,324.9 L393.0,326.5 L395.0,328.1 L397.0,329.8 L399.0,331.6 L401.0,333.4 L403.0,335.3 L405.0,337.3 L407.0,339.3 L409.0,341.3 L411.0,343.4 L413.0,345.5 L415.0,347.6 L417.0,349.7 L419.0,351.8 L421.0,353.9 L423.0,356.0 L425.0,358.1 L427.0,360.2 L429.0,362.2 L431.0,364.2 L433.0,366.2 L435.0,368.1 L437.0,370.0 L439.0,371.9 L441.0,373.7 L443.0,375.5 L445.0,377.2 L447.0,378.9 L449.0,380.6 L451.0,382.3 L453.0,383.9 L455.0,385.4 L457.0,387.0 L459.0,388.5 L461.0,390.0 L463.0,391.5 L465.0,392.9 L467.0,394.3 L469.0,395.7 L471.0,397.0 L473.0,398.3 L475.0,399.6 L477.0,400.9 L479.0,402.1 L481.0,403.4 L483.0,404.6 L485.0,405.7 L487.0,406.9 L489.0,408.0 L491.0,409.2 L493.0,410.3 L495.0,411.3 L497.0,412.4 L499.0,413.4 L501.0,414.4 L503.0,415.4 L505.0,416.4 L507.0,417.4 L509.0,418.3 L511.0,419.3 L513.0,420.2 L515.0,421.1 L517.0,422.0 L519.0,422.8 L521.0,423.7 L523.0,424.5 L525.0,425.3 L527.0,426.1 L529.0,426.9 L531.0,427.7 L533.0,428.4 L535.0,429.2 L537.0,429.9 L539.0,430.6 L541.0,431.3 L543.0,432.0 L545.0,432.7 L547.0,433.3 L549.0,434.0 L551.0,434.6 L553.0,435.3 L555.0,435.9 L557.0,436.5 L559.0,437.1 L561.0,437.7 L563.0,438.3 L565.0,438.8 L567.0,439.4 L569.0,440.0 L571.0,440.5 L573.0,441.0 L575.0,441.6 L577.0,442.1 L579.0,442.6 L581.0,443.1 L583.0,443.6 L585.0,444.1 L587.0,444.6 L589.0,445.1 L591.0,445.6 L593.0,446.0 L595.0,446.5 L597.0,447.0 L599.0,447.4 L601.0,447.9 L603.0,448.3 L605.0,448.8 L607.0,449.2 L609.0,449.7 L611.0,450.1 L613.0,450.6 L615.0,451.0 L617.0,451.4 L619.0,451.9 L621.0,452.3 L623.0,452.8 L625.0,453.2 L627.0,453.6 L629.0,454.1 L631.0,454.5 L633.0,454.9 L635.0,455.4 L637.0,455.8 L639.0,456.3 L641.0,456.7 L643.0,457.1 L645.0,457.6 L647.0,458.0 L649.0,458.5 L651.0,459.0 L653.0,459.4 L655.0,459.9 L657.0,460.4 L659.0,460.8 L661.0,461.3 L663.0,461.8 L665.0,462.3 L667.0,462.8 L669.0,463.3 L671.0,463.8 L673.0,464.3 L675.0,464.8 L677.0,465.4 L679.0,465.9 L681.0,466.4 L683.0,466.9 L685.0,467.5 L687.0,468.0 L689.0,468.5 L691.0,469.1 L693.0,469.6 L695.0,470.2 L697.0,470.7 L699.0,471.3 L701.0,471.8 L703.0,472.4 L705.0,472.9 L707.0,473.5 L709.0,474.1 L711.0,474.6 L713.0,475.2 L715.0,475.8 L717.0,476.3 L719.0,476.9 L721.0,477.5 L723.0,478.0 L725.0,478.6 L727.0,479.2 L729.0,479.8 L731.0,480.3 L733.0,480.9 L735.0,481.5 L737.0,482.1 L739.0,482.7 L741.0,483.2 L743.0,483.8 L745.0,484.4 L747.0,485.0 L749.0,485.6 L751.0,486.1 L753.0,486.7 L755.0,487.3 L757.0,487.9 L759.0,488.4 L761.0,489.0 L763.0,489.6 L765.0,490.2 L767.0,490.7 L769.0,491.3 L771.0,491.9 L773.0,492.4 L775.0,493.0 L777.0,493.6 L779.0,494.1 L781.0,494.7 L783.0,495.2 L785.0,495.8 L787.0,496.3 L789.0,496.9 L791.0,497.4 L793.0,498.0 L795.0,498.5 L797.0,499.1 L799.0,499.6 L801.0,500.1 L803.0,500.7 L805.0,501.2 L807.0,501.7 L809.0,502.2 L811.0,502.7 L813.0,503.3 L815.0,503.8 L817.0,504.3 L819.0,504.8 L821.0,505.2 L823.0,505.7 L825.0,506.2 L827.0,506.7 L829.0,507.2 L831.0,507.6 L833.0,508.1 L835.0,508.6 L837.0,509.0 L839.0,509.5 L841.0,509.9 L843.0,510.4 L845.0,510.8 L847.0,511.2 L849.0,511.6 L851.0,512.0 L853.0,512.5 L855.0,512.9 L857.0,513.3 L859.0,513.6 L861.0,514.0 L863.0,514.4 L865.0,514.8 L867.0,515.1 L869.0,515.5 L871.0,515.8 L873.0,516.2 L875.0,516.5 L877.0,516.8 L879.0,517.1 L881.0,517.5 L883.0,517.8 L885.0,518.1 L887.0,518.3 L889.0,518.6 L891.0,518.9 L893.0,519.1 L895.0,519.4 L897.0,519.6 L899.0,519.9 L901.0,520.1 L903.0,520.3 L905.0,520.5 L907.0,520.7 L909.0,520.9 L911.0,521.1 L913.0,521.3 L915.0,521.4 L917.0,521.6 L919.0,521.7 L921.0,521.8 L923.0,522.0 L925.0,522.1 L927.0,522.2 L929.0,522.3 L931.0,522.3 L933.0,522.4 L935.0,522.5 L937.0,522.5 L939.0,522.5 L941.0,522.6 L943.0,522.6 L945.0,522.6 L946.0,522.6" fill="none" stroke="#2ca866" stroke-width="4.3" stroke-linejoin="round" stroke-linecap="butt"/>
<path d="M117.0,463.0 L119.0,462.9 L121.0,462.7 L123.0,462.6 L125.0,462.5 L127.0,462.5 L129.0,462.4 L131.0,462.4 L133.0,462.4 L135.0,462.4 L137.0,462.4 L139.0,462.5 L141.0,462.5 L143.0,462.6 L145.0,462.6 L147.0,462.7 L149.0,462.7 L151.0,462.8 L153.0,462.9 L155.0,462.9 L157.0,463.0 L159.0,463.0 L161.0,463.1 L163.0,463.1 L165.0,463.2 L167.0,463.2 L169.0,463.2 L171.0,463.2 L173.0,463.2 L175.0,463.1 L177.0,463.1 L179.0,463.0 L181.0,462.9 L183.0,462.8 L185.0,462.6 L187.0,462.5 L189.0,462.3 L191.0,462.0 L193.0,461.8 L195.0,461.5 L197.0,461.1 L199.0,460.8 L201.0,460.4 L203.0,459.9 L205.0,459.4 L207.0,458.9 L209.0,458.3 L211.0,457.7 L213.0,457.0 L215.0,456.3 L217.0,455.5 L219.0,454.7 L221.0,453.9 L223.0,453.0 L225.0,452.0 L227.0,451.0 L229.0,450.0 L231.0,448.9 L233.0,447.8 L235.0,446.6 L237.0,445.4 L239.0,444.2 L241.0,442.9 L243.0,441.5 L245.0,440.1 L247.0,438.7 L249.0,437.2 L251.0,435.7 L253.0,434.1 L255.0,432.5 L257.0,430.9 L259.0,429.2 L261.0,427.5 L263.0,425.7 L265.0,423.9 L267.0,422.1 L269.0,420.2 L271.0,418.3 L273.0,416.3 L275.0,414.3 L277.0,412.3 L279.0,410.2 L281.0,408.1 L283.0,405.9 L285.0,403.7 L287.0,401.5 L289.0,399.2 L291.0,396.9 L293.0,394.6 L295.0,392.3 L297.0,389.9 L299.0,387.5 L301.0,385.2 L303.0,382.8 L305.0,380.5 L307.0,378.1 L309.0,375.8 L311.0,373.4 L313.0,371.1 L315.0,368.9 L317.0,366.6 L319.0,364.4 L321.0,362.2 L323.0,360.1 L325.0,358.0 L327.0,356.0 L329.0,354.0 L331.0,352.1 L333.0,350.3 L335.0,348.5 L337.0,346.8 L339.0,345.2 L341.0,343.6 L343.0,342.2 L345.0,340.8 L347.0,339.6 L349.0,338.4 L351.0,337.4 L353.0,336.4 L355.0,335.6 L357.0,334.9 L359.0,334.3 L361.0,333.8 L363.0,333.5 L365.0,333.3 L367.0,333.3 L369.0,333.4 L371.0,333.6 L373.0,334.0 L375.0,334.6 L377.0,335.2 L379.0,336.0 L381.0,336.9 L383.0,338.0 L385.0,339.1 L387.0,340.3 L389.0,341.7 L391.0,343.1 L393.0,344.6 L395.0,346.1 L397.0,347.8 L399.0,349.5 L401.0,351.3 L403.0,353.1 L405.0,355.0 L407.0,356.9 L409.0,358.8 L411.0,360.8 L413.0,362.8 L415.0,364.8 L417.0,366.8 L419.0,368.8 L421.0,370.8 L423.0,372.8 L425.0,374.8 L427.0,376.7 L429.0,378.6 L431.0,380.5 L433.0,382.4 L435.0,384.2 L437.0,386.0 L439.0,387.7 L441.0,389.4 L443.0,391.1 L445.0,392.7 L447.0,394.3 L449.0,395.9 L451.0,397.4 L453.0,398.9 L455.0,400.4 L457.0,401.9 L459.0,403.3 L461.0,404.7 L463.0,406.0 L465.0,407.3 L467.0,408.6 L469.0,409.9 L471.0,411.2 L473.0,412.4 L475.0,413.6 L477.0,414.7 L479.0,415.9 L481.0,417.0 L483.0,418.1 L485.0,419.2 L487.0,420.3 L489.0,421.3 L491.0,422.3 L493.0,423.3 L495.0,424.3 L497.0,425.3 L499.0,426.3 L501.0,427.2 L503.0,428.1 L505.0,429.0 L507.0,429.9 L509.0,430.7 L511.0,431.6 L513.0,432.4 L515.0,433.2 L517.0,434.0 L519.0,434.8 L521.0,435.6 L523.0,436.3 L525.0,437.1 L527.0,437.8 L529.0,438.5 L531.0,439.2 L533.0,439.9 L535.0,440.5 L537.0,441.2 L539.0,441.8 L541.0,442.5 L543.0,443.1 L545.0,443.7 L547.0,444.3 L549.0,444.9 L551.0,445.5 L553.0,446.0 L555.0,446.6 L557.0,447.1 L559.0,447.7 L561.0,448.2 L563.0,448.7 L565.0,449.2 L567.0,449.7 L569.0,450.2 L571.0,450.7 L573.0,451.2 L575.0,451.6 L577.0,452.1 L579.0,452.6 L581.0,453.0 L583.0,453.4 L585.0,453.9 L587.0,454.3 L589.0,454.7 L591.0,455.2 L593.0,455.6 L595.0,456.0 L597.0,456.4 L599.0,456.8 L601.0,457.2 L603.0,457.6 L605.0,458.0 L607.0,458.4 L609.0,458.8 L611.0,459.2 L613.0,459.6 L615.0,460.0 L617.0,460.4 L619.0,460.8 L621.0,461.1 L623.0,461.5 L625.0,461.9 L627.0,462.3 L629.0,462.7 L631.0,463.1 L633.0,463.5 L635.0,463.9 L637.0,464.3 L639.0,464.7 L641.0,465.1 L643.0,465.5 L645.0,465.9 L647.0,466.3 L649.0,466.7 L651.0,467.1 L653.0,467.5 L655.0,467.9 L657.0,468.4 L659.0,468.8 L661.0,469.3 L663.0,469.7 L665.0,470.2 L667.0,470.6 L669.0,471.1 L671.0,471.5 L673.0,472.0 L675.0,472.5 L677.0,473.0 L679.0,473.4 L681.0,473.9 L683.0,474.4 L685.0,474.9 L687.0,475.4 L689.0,475.9 L691.0,476.4 L693.0,476.9 L695.0,477.4 L697.0,477.9 L699.0,478.4 L701.0,478.9 L703.0,479.5 L705.0,480.0 L707.0,480.5 L709.0,481.0 L711.0,481.6 L713.0,482.1 L715.0,482.6 L717.0,483.2 L719.0,483.7 L721.0,484.2 L723.0,484.8 L725.0,485.3 L727.0,485.9 L729.0,486.4 L731.0,486.9 L733.0,487.5 L735.0,488.0 L737.0,488.6 L739.0,489.1 L741.0,489.7 L743.0,490.2 L745.0,490.8 L747.0,491.3 L749.0,491.9 L751.0,492.4 L753.0,492.9 L755.0,493.5 L757.0,494.0 L759.0,494.6 L761.0,495.1 L763.0,495.7 L765.0,496.2 L767.0,496.7 L769.0,497.3 L771.0,497.8 L773.0,498.4 L775.0,498.9 L777.0,499.4 L779.0,500.0 L781.0,500.5 L783.0,501.0 L785.0,501.5 L787.0,502.1 L789.0,502.6 L791.0,503.1 L793.0,503.6 L795.0,504.1 L797.0,504.7 L799.0,505.2 L801.0,505.7 L803.0,506.2 L805.0,506.7 L807.0,507.2 L809.0,507.7 L811.0,508.1 L813.0,508.6 L815.0,509.1 L817.0,509.6 L819.0,510.0 L821.0,510.5 L823.0,511.0 L825.0,511.4 L827.0,511.9 L829.0,512.3 L831.0,512.8 L833.0,513.2 L835.0,513.7 L837.0,514.1 L839.0,514.5 L841.0,514.9 L843.0,515.4 L845.0,515.8 L847.0,516.2 L849.0,516.6 L851.0,517.0 L853.0,517.3 L855.0,517.7 L857.0,518.1 L859.0,518.5 L861.0,518.8 L863.0,519.2 L865.0,519.5 L867.0,519.9 L869.0,520.2 L871.0,520.5 L873.0,520.8 L875.0,521.1 L877.0,521.4 L879.0,521.7 L881.0,522.0 L883.0,522.3 L885.0,522.6 L887.0,522.8 L889.0,523.1 L891.0,523.4 L893.0,523.6 L895.0,523.8 L897.0,524.0 L899.0,524.3 L901.0,524.5 L903.0,524.7 L905.0,524.9 L907.0,525.0 L909.0,525.2 L911.0,525.4 L913.0,525.5 L915.0,525.6 L917.0,525.8 L919.0,525.9 L921.0,526.0 L923.0,526.1 L925.0,526.2 L927.0,526.3 L929.0,526.4 L931.0,526.4 L933.0,526.5 L935.0,526.5 L937.0,526.5 L939.0,526.5 L941.0,526.6 L943.0,526.5 L945.0,526.5 L946.0,526.5" fill="none" stroke="#b073e2" stroke-width="4.3" stroke-linejoin="round" stroke-linecap="butt"/>
<path d="M117.0,446.1 L119.0,446.8 L121.0,447.5 L123.0,448.2 L125.0,448.9 L127.0,449.5 L129.0,450.2 L131.0,450.9 L133.0,451.5 L135.0,452.2 L137.0,452.8 L139.0,453.4 L141.0,454.0 L143.0,454.6 L145.0,455.2 L147.0,455.7 L149.0,456.3 L151.0,456.8 L153.0,457.3 L155.0,457.8 L157.0,458.3 L159.0,458.8 L161.0,459.2 L163.0,459.7 L165.0,460.1 L167.0,460.5 L169.0,460.9 L171.0,461.2 L173.0,461.6 L175.0,461.9 L177.0,462.2 L179.0,462.5 L181.0,462.8 L183.0,463.0 L185.0,463.2 L187.0,463.4 L189.0,463.6 L191.0,463.8 L193.0,463.9 L195.0,464.0 L197.0,464.1 L199.0,464.1 L201.0,464.2 L203.0,464.2 L205.0,464.1 L207.0,464.1 L209.0,464.0 L211.0,463.9 L213.0,463.8 L215.0,463.6 L217.0,463.5 L219.0,463.2 L221.0,463.0 L223.0,462.7 L225.0,462.4 L227.0,462.1 L229.0,461.7 L231.0,461.3 L233.0,460.9 L235.0,460.4 L237.0,459.9 L239.0,459.4 L241.0,458.9 L243.0,458.3 L245.0,457.7 L247.0,457.1 L249.0,456.4 L251.0,455.7 L253.0,455.0 L255.0,454.2 L257.0,453.5 L259.0,452.7 L261.0,451.8 L263.0,451.0 L265.0,450.1 L267.0,449.2 L269.0,448.3 L271.0,447.3 L273.0,446.3 L275.0,445.3 L277.0,444.3 L279.0,443.2 L281.0,442.1 L283.0,441.0 L285.0,439.9 L287.0,438.7 L289.0,437.6 L291.0,436.4 L293.0,435.1 L295.0,433.9 L297.0,432.6 L299.0,431.4 L301.0,430.1 L303.0,428.8 L305.0,427.5 L307.0,426.2 L309.0,424.9 L311.0,423.6 L313.0,422.4 L315.0,421.1 L317.0,419.8 L319.0,418.6 L321.0,417.3 L323.0,416.1 L325.0,415.0 L327.0,413.8 L329.0,412.7 L331.0,411.6 L333.0,410.5 L335.0,409.5 L337.0,408.5 L339.0,407.6 L341.0,406.7 L343.0,405.8 L345.0,405.0 L347.0,404.3 L349.0,403.6 L351.0,403.0 L353.0,402.4 L355.0,401.9 L357.0,401.5 L359.0,401.2 L361.0,400.9 L363.0,400.7 L365.0,400.5 L367.0,400.5 L369.0,400.5 L371.0,400.6 L373.0,400.8 L375.0,401.1 L377.0,401.5 L379.0,402.0 L381.0,402.5 L383.0,403.2 L385.0,404.0 L387.0,404.8 L389.0,405.8 L391.0,406.7 L393.0,407.8 L395.0,408.9 L397.0,410.0 L399.0,411.2 L401.0,412.5 L403.0,413.7 L405.0,415.0 L407.0,416.3 L409.0,417.5 L411.0,418.8 L413.0,420.1 L415.0,421.4 L417.0,422.6 L419.0,423.9 L421.0,425.1 L423.0,426.3 L425.0,427.6 L427.0,428.8 L429.0,430.0 L431.0,431.2 L433.0,432.3 L435.0,433.5 L437.0,434.7 L439.0,435.8 L441.0,436.9 L443.0,438.1 L445.0,439.2 L447.0,440.3 L449.0,441.4 L451.0,442.4 L453.0,443.5 L455.0,444.5 L457.0,445.5 L459.0,446.5 L461.0,447.5 L463.0,448.5 L465.0,449.5 L467.0,450.4 L469.0,451.3 L471.0,452.2 L473.0,453.1 L475.0,454.0 L477.0,454.9 L479.0,455.7 L481.0,456.5 L483.0,457.3 L485.0,458.1 L487.0,458.8 L489.0,459.6 L491.0,460.3 L493.0,461.0 L495.0,461.7 L497.0,462.3 L499.0,463.0 L501.0,463.6 L503.0,464.2 L505.0,464.8 L507.0,465.4 L509.0,465.9 L511.0,466.5 L513.0,467.0 L515.0,467.5 L517.0,468.1 L519.0,468.6 L521.0,469.0 L523.0,469.5 L525.0,470.0 L527.0,470.4 L529.0,470.9 L531.0,471.3 L533.0,471.8 L535.0,472.2 L537.0,472.6 L539.0,473.0 L541.0,473.4 L543.0,473.8 L545.0,474.2 L547.0,474.6 L549.0,474.9 L551.0,475.3 L553.0,475.7 L555.0,476.1 L557.0,476.4 L559.0,476.8 L561.0,477.2 L563.0,477.5 L565.0,477.9 L567.0,478.2 L569.0,478.6 L571.0,478.9 L573.0,479.3 L575.0,479.6 L577.0,479.9 L579.0,480.3 L581.0,480.6 L583.0,480.9 L585.0,481.2 L587.0,481.6 L589.0,481.9 L591.0,482.2 L593.0,482.5 L595.0,482.9 L597.0,483.2 L599.0,483.5 L601.0,483.8 L603.0,484.1 L605.0,484.4 L607.0,484.7 L609.0,485.0 L611.0,485.4 L613.0,485.7 L615.0,486.0 L617.0,486.3 L619.0,486.6 L621.0,486.9 L623.0,487.2 L625.0,487.5 L627.0,487.8 L629.0,488.1 L631.0,488.4 L633.0,488.7 L635.0,489.0 L637.0,489.3 L639.0,489.7 L641.0,490.0 L643.0,490.3 L645.0,490.6 L647.0,490.9 L649.0,491.2 L651.0,491.5 L653.0,491.8 L655.0,492.2 L657.0,492.5 L659.0,492.8 L661.0,493.1 L663.0,493.4 L665.0,493.8 L667.0,494.1 L669.0,494.4 L671.0,494.8 L673.0,495.1 L675.0,495.4 L677.0,495.8 L679.0,496.1 L681.0,496.4 L683.0,496.8 L685.0,497.1 L687.0,497.4 L689.0,497.8 L691.0,498.1 L693.0,498.5 L695.0,498.8 L697.0,499.1 L699.0,499.5 L701.0,499.8 L703.0,500.2 L705.0,500.5 L707.0,500.9 L709.0,501.2 L711.0,501.6 L713.0,501.9 L715.0,502.3 L717.0,502.6 L719.0,503.0 L721.0,503.3 L723.0,503.7 L725.0,504.0 L727.0,504.4 L729.0,504.7 L731.0,505.1 L733.0,505.4 L735.0,505.8 L737.0,506.1 L739.0,506.5 L741.0,506.8 L743.0,507.2 L745.0,507.5 L747.0,507.9 L749.0,508.2 L751.0,508.6 L753.0,508.9 L755.0,509.2 L757.0,509.6 L759.0,509.9 L761.0,510.3 L763.0,510.6 L765.0,511.0 L767.0,511.3 L769.0,511.6 L771.0,512.0 L773.0,512.3 L775.0,512.7 L777.0,513.0 L779.0,513.3 L781.0,513.7 L783.0,514.0 L785.0,514.3 L787.0,514.7 L789.0,515.0 L791.0,515.3 L793.0,515.7 L795.0,516.0 L797.0,516.3 L799.0,516.6 L801.0,517.0 L803.0,517.3 L805.0,517.6 L807.0,517.9 L809.0,518.2 L811.0,518.5 L813.0,518.8 L815.0,519.1 L817.0,519.5 L819.0,519.8 L821.0,520.1 L823.0,520.4 L825.0,520.7 L827.0,521.0 L829.0,521.2 L831.0,521.5 L833.0,521.8 L835.0,522.1 L837.0,522.4 L839.0,522.7 L841.0,523.0 L843.0,523.2 L845.0,523.5 L847.0,523.8 L849.0,524.1 L851.0,524.3 L853.0,524.6 L855.0,524.8 L857.0,525.1 L859.0,525.4 L861.0,525.6 L863.0,525.9 L865.0,526.1 L867.0,526.3 L869.0,526.6 L871.0,526.8 L873.0,527.1 L875.0,527.3 L877.0,527.5 L879.0,527.7 L881.0,527.9 L883.0,528.2 L885.0,528.4 L887.0,528.6 L889.0,528.8 L891.0,529.0 L893.0,529.2 L895.0,529.4 L897.0,529.6 L899.0,529.8 L901.0,529.9 L903.0,530.1 L905.0,530.3 L907.0,530.5 L909.0,530.6 L911.0,530.8 L913.0,531.0 L915.0,531.1 L917.0,531.3 L919.0,531.4 L921.0,531.5 L923.0,531.7 L925.0,531.8 L927.0,531.9 L929.0,532.1 L931.0,532.2 L933.0,532.3 L935.0,532.4 L937.0,532.5 L939.0,532.6 L941.0,532.7 L943.0,532.8 L945.0,532.9 L946.0,532.9" fill="none" stroke="#cf9406" stroke-width="4.3" stroke-linejoin="round" stroke-linecap="butt"/>
<g stroke="#000" stroke-width="2.6" fill="none">
<rect x="116.5" y="36.7" width="830.2" height="669.8"/>
<line x1="103.5" y1="92.6" x2="116.5" y2="92.6"/>
<line x1="103.5" y1="204.2" x2="116.5" y2="204.2"/>
<line x1="103.5" y1="315.9" x2="116.5" y2="315.9"/>
<line x1="103.5" y1="427.5" x2="116.5" y2="427.5"/>
<line x1="103.5" y1="539.2" x2="116.5" y2="539.2"/>
<line x1="103.5" y1="650.9" x2="116.5" y2="650.9"/>
<line x1="110" y1="36.7" x2="116.5" y2="36.7"/>
<line x1="110" y1="148.4" x2="116.5" y2="148.4"/>
<line x1="110" y1="260.1" x2="116.5" y2="260.1"/>
<line x1="110" y1="371.7" x2="116.5" y2="371.7"/>
<line x1="110" y1="483.4" x2="116.5" y2="483.4"/>
<line x1="110" y1="595.0" x2="116.5" y2="595.0"/>
<line x1="110" y1="706.7" x2="116.5" y2="706.7"/>
<line x1="116.5" y1="706.5" x2="116.5" y2="719.5"/>
<line x1="324.1" y1="706.5" x2="324.1" y2="719.5"/>
<line x1="531.6" y1="706.5" x2="531.6" y2="719.5"/>
<line x1="739.1" y1="706.5" x2="739.1" y2="719.5"/>
<line x1="946.7" y1="706.5" x2="946.7" y2="719.5"/>
<line x1="220.3" y1="706.5" x2="220.3" y2="713"/>
<line x1="427.8" y1="706.5" x2="427.8" y2="713"/>
<line x1="635.4" y1="706.5" x2="635.4" y2="713"/>
<line x1="842.9" y1="706.5" x2="842.9" y2="713"/>
</g>
<text transform="translate(93.40,101.76) scale(1,1.060)" text-anchor="end" font-family="Liberation Sans, sans-serif" font-weight="bold" font-size="28.20">0.8</text>
<text transform="translate(93.40,213.42) scale(1,1.060)" text-anchor="end" font-family="Liberation Sans, sans-serif" font-weight="bold" font-size="28.20">0.6</text>
<text transform="translate(93.40,325.08) scale(1,1.060)" text-anchor="end" font-family="Liberation Sans, sans-serif" font-weight="bold" font-size="28.20">0.4</text>
<text transform="translate(93.40,436.74) scale(1,1.060)" text-anchor="end" font-family="Liberation Sans, sans-serif" font-weight="bold" font-size="28.20">0.2</text>
<text transform="translate(93.40,548.40) scale(1,1.060)" text-anchor="end" font-family="Liberation Sans, sans-serif" font-weight="bold" font-size="28.20">0.0</text>
<text transform="translate(93.40,660.06) scale(1,1.060)" text-anchor="end" font-family="Liberation Sans, sans-serif" font-weight="bold" font-size="28.20">-0.2</text>
<text transform="translate(116.30,751.40) scale(1,1.060)" text-anchor="middle" font-family="Liberation Sans, sans-serif" font-weight="bold" font-size="28.20">400</text>
<text transform="translate(323.85,751.40) scale(1,1.060)" text-anchor="middle" font-family="Liberation Sans, sans-serif" font-weight="bold" font-size="28.20">500</text>
<text transform="translate(531.40,751.40) scale(1,1.060)" text-anchor="middle" font-family="Liberation Sans, sans-serif" font-weight="bold" font-size="28.20">600</text>
<text transform="translate(738.95,751.40) scale(1,1.060)" text-anchor="middle" font-family="Liberation Sans, sans-serif" font-weight="bold" font-size="28.20">700</text>
<text transform="translate(946.50,751.40) scale(1,1.060)" text-anchor="middle" font-family="Liberation Sans, sans-serif" font-weight="bold" font-size="28.20">800</text>
<text transform="translate(532.30,808.20) scale(1,1.060)" text-anchor="middle" font-family="Liberation Sans, sans-serif" font-weight="bold" font-size="34.85">Wavelength (nm)</text>
<text transform="translate(31.10,372.30) rotate(-90) scale(1,1.060)" text-anchor="middle" font-family="Liberation Sans, sans-serif" font-weight="bold" font-size="34.80">Absorbance (%)</text>
<text transform="translate(0.50,34.00)" text-anchor="start" font-family="Liberation Sans, sans-serif" font-size="42.50">(a)</text>
<line x1="741.2" y1="76.0" x2="811.3" y2="76.0" stroke="#4b4b4b" stroke-width="4.4" stroke-linecap="round"/>
<text transform="translate(819.40,86.80) scale(1,1.100)" text-anchor="start" font-family="Liberation Sans, sans-serif" font-weight="bold" font-size="31.40">DPPH</text>
<line x1="741.2" y1="116.0" x2="811.3" y2="116.0" stroke="#e93d36" stroke-width="4.4" stroke-linecap="round"/>
<text transform="translate(819.40,126.20) scale(1,1.100)" text-anchor="start" font-family="Liberation Sans, sans-serif" font-weight="bold" font-size="31.40">CGV</text>
<line x1="741.2" y1="156.0" x2="811.3" y2="156.0" stroke="#1169e2" stroke-width="4.4" stroke-linecap="round"/>
<text transform="translate(819.40,166.60) scale(1,1.100)" text-anchor="start" font-family="Liberation Sans, sans-serif" font-weight="bold" font-size="31.40">CGVC<tspan font-size="20.5" dy="7.3">5</tspan></text>
<line x1="741.2" y1="202.2" x2="811.3" y2="202.2" stroke="#2ca866" stroke-width="4.4" stroke-linecap="round"/>
<text transform="translate(819.40,213.20) scale(1,1.100)" text-anchor="start" font-family="Liberation Sans, sans-serif" font-weight="bold" font-size="31.40">CGVC<tspan font-size="20.5" dy="7.3">10</tspan></text>
<line x1="741.2" y1="248.7" x2="811.3" y2="248.7" stroke="#b073e2" stroke-width="4.4" stroke-linecap="round"/>
<text transform="translate(819.40,259.30) scale(1,1.100)" text-anchor="start" font-family="Liberation Sans, sans-serif" font-weight="bold" font-size="31.40">CGVC<tspan font-size="20.5" dy="7.3">15</tspan></text>
<line x1="741.2" y1="295.6" x2="811.3" y2="295.6" stroke="#cf9406" stroke-width="4.4" stroke-linecap="round"/>
<text transform="translate(819.40,305.80) scale(1,1.100)" text-anchor="start" font-family="Liberation Sans, sans-serif" font-weight="bold" font-size="31.40">CGVC<tspan font-size="20.5" dy="7.3">20</tspan></text>
<defs><linearGradient id="bar" x1="0" y1="0" x2="1" y2="0"><stop offset="0" stop-color="#d66a12"/><stop offset="0.06" stop-color="#c9692e"/><stop offset="0.18" stop-color="#d98a5b"/><stop offset="0.30" stop-color="#ecb083"/><stop offset="0.42" stop-color="#f7c391"/><stop offset="0.52" stop-color="#fac898"/><stop offset="0.63" stop-color="#f4c090"/><stop offset="0.75" stop-color="#e6a677"/><stop offset="0.86" stop-color="#d37e4a"/><stop offset="0.97" stop-color="#cb6420"/><stop offset="1" stop-color="#d46810"/></linearGradient></defs>
<rect x="149.5" y="1249.7" width="99.6" height="322.7" fill="url(#bar)" stroke="#000" stroke-width="1.6"/>
<rect x="190.8" y="1244.3" width="17" height="4.6" rx="1.8" fill="#000"/>
<rect x="197.8" y="1247.7" width="3" height="4.5" fill="#000"/>
<rect x="315.7" y="1232.6" width="99.6" height="339.8" fill="url(#bar)" stroke="#000" stroke-width="1.6"/>
<rect x="357.0" y="1227.2" width="17" height="4.6" rx="1.8" fill="#000"/>
<rect x="364.0" y="1230.6" width="3" height="4.5" fill="#000"/>
<rect x="481.9" y="1197.7" width="99.6" height="374.7" fill="url(#bar)" stroke="#000" stroke-width="1.6"/>
<rect x="523.2" y="1192.3" width="17" height="4.6" rx="1.8" fill="#000"/>
<rect x="530.2" y="1195.7" width="3" height="4.5" fill="#000"/>
<rect x="648.1" y="1168.7" width="99.6" height="403.7" fill="url(#bar)" stroke="#000" stroke-width="1.6"/>
<rect x="689.4" y="1163.3" width="17" height="4.6" rx="1.8" fill="#000"/>
<rect x="696.4" y="1166.7" width="3" height="4.5" fill="#000"/>
<rect x="814.3" y="1058.6" width="99.6" height="513.8" fill="url(#bar)" stroke="#000" stroke-width="1.6"/>
<rect x="855.6" y="1053.2" width="17" height="4.6" rx="1.8" fill="#000"/>
<rect x="862.6" y="1056.6" width="3" height="4.5" fill="#000"/>
<g stroke="#000" stroke-width="2.6" fill="none">
<rect x="116.2" y="902.5" width="830.6" height="669.9"/>
<line x1="103.2" y1="1572.4" x2="116.2" y2="1572.4"/>
<line x1="103.2" y1="1423.7" x2="116.2" y2="1423.7"/>
<line x1="103.2" y1="1275.0" x2="116.2" y2="1275.0"/>
<line x1="103.2" y1="1126.3" x2="116.2" y2="1126.3"/>
<line x1="103.2" y1="977.6" x2="116.2" y2="977.6"/>
<line x1="109.8" y1="1498.1" x2="116.2" y2="1498.1"/>
<line x1="109.8" y1="1349.4" x2="116.2" y2="1349.4"/>
<line x1="109.8" y1="1200.7" x2="116.2" y2="1200.7"/>
<line x1="109.8" y1="1052.0" x2="116.2" y2="1052.0"/>
<line x1="109.8" y1="903.2" x2="116.2" y2="903.2"/>
<line x1="199.3" y1="1572.4" x2="199.3" y2="1585.5"/>
<line x1="365.5" y1="1572.4" x2="365.5" y2="1585.5"/>
<line x1="531.7" y1="1572.4" x2="531.7" y2="1585.5"/>
<line x1="697.9" y1="1572.4" x2="697.9" y2="1585.5"/>
<line x1="864.1" y1="1572.4" x2="864.1" y2="1585.5"/>
<line x1="116.2" y1="1572.4" x2="116.2" y2="1579"/>
<line x1="282.3" y1="1572.4" x2="282.3" y2="1579"/>
<line x1="448.4" y1="1572.4" x2="448.4" y2="1579"/>
<line x1="614.6" y1="1572.4" x2="614.6" y2="1579"/>
<line x1="780.7" y1="1572.4" x2="780.7" y2="1579"/>
<line x1="946.8" y1="1572.4" x2="946.8" y2="1579"/>
</g>
<text transform="translate(93.20,1580.80) scale(1,1.080)" text-anchor="end" font-family="Liberation Sans, sans-serif" font-weight="bold" font-size="28.20">0</text>
<text transform="translate(93.20,1432.10) scale(1,1.080)" text-anchor="end" font-family="Liberation Sans, sans-serif" font-weight="bold" font-size="28.20">20</text>
<text transform="translate(93.20,1283.40) scale(1,1.080)" text-anchor="end" font-family="Liberation Sans, sans-serif" font-weight="bold" font-size="28.20">40</text>
<text transform="translate(93.20,1134.70) scale(1,1.080)" text-anchor="end" font-family="Liberation Sans, sans-serif" font-weight="bold" font-size="28.20">60</text>
<text transform="translate(93.20,986.00) scale(1,1.080)" text-anchor="end" font-family="Liberation Sans, sans-serif" font-weight="bold" font-size="28.20">80</text>
<text transform="translate(199.90,1619.00) scale(1,1.100)" text-anchor="middle" font-family="Liberation Sans, sans-serif" font-weight="bold" font-size="28.40">CGV</text>
<text transform="translate(366.10,1619.00) scale(1,1.100)" text-anchor="middle" font-family="Liberation Sans, sans-serif" font-weight="bold" font-size="28.40">CGVC<tspan font-size="19.5" dy="7.3">5</tspan></text>
<text transform="translate(532.30,1619.00) scale(1,1.100)" text-anchor="middle" font-family="Liberation Sans, sans-serif" font-weight="bold" font-size="28.40">CGVC<tspan font-size="19.5" dy="7.3">10</tspan></text>
<text transform="translate(698.50,1619.00) scale(1,1.100)" text-anchor="middle" font-family="Liberation Sans, sans-serif" font-weight="bold" font-size="28.40">CGVC<tspan font-size="19.5" dy="7.3">15</tspan></text>
<text transform="translate(864.70,1619.00) scale(1,1.100)" text-anchor="middle" font-family="Liberation Sans, sans-serif" font-weight="bold" font-size="28.40">CGVC<tspan font-size="19.5" dy="7.3">20</tspan></text>
<text transform="translate(532.00,1677.40) scale(1,1.060)" text-anchor="middle" font-family="Liberation Sans, sans-serif" font-weight="bold" font-size="34.70">Wax Content (%)</text>
<text transform="translate(47.70,1236.50) rotate(-90) scale(1,1.060)" text-anchor="middle" font-family="Liberation Sans, sans-serif" font-weight="bold" font-size="34.50">Scavenging activity (%)</text>
<text transform="translate(2.50,892.00)" text-anchor="start" font-family="Liberation Sans, sans-serif" font-size="42.50">(b)</text>
</svg>
</body></html>
